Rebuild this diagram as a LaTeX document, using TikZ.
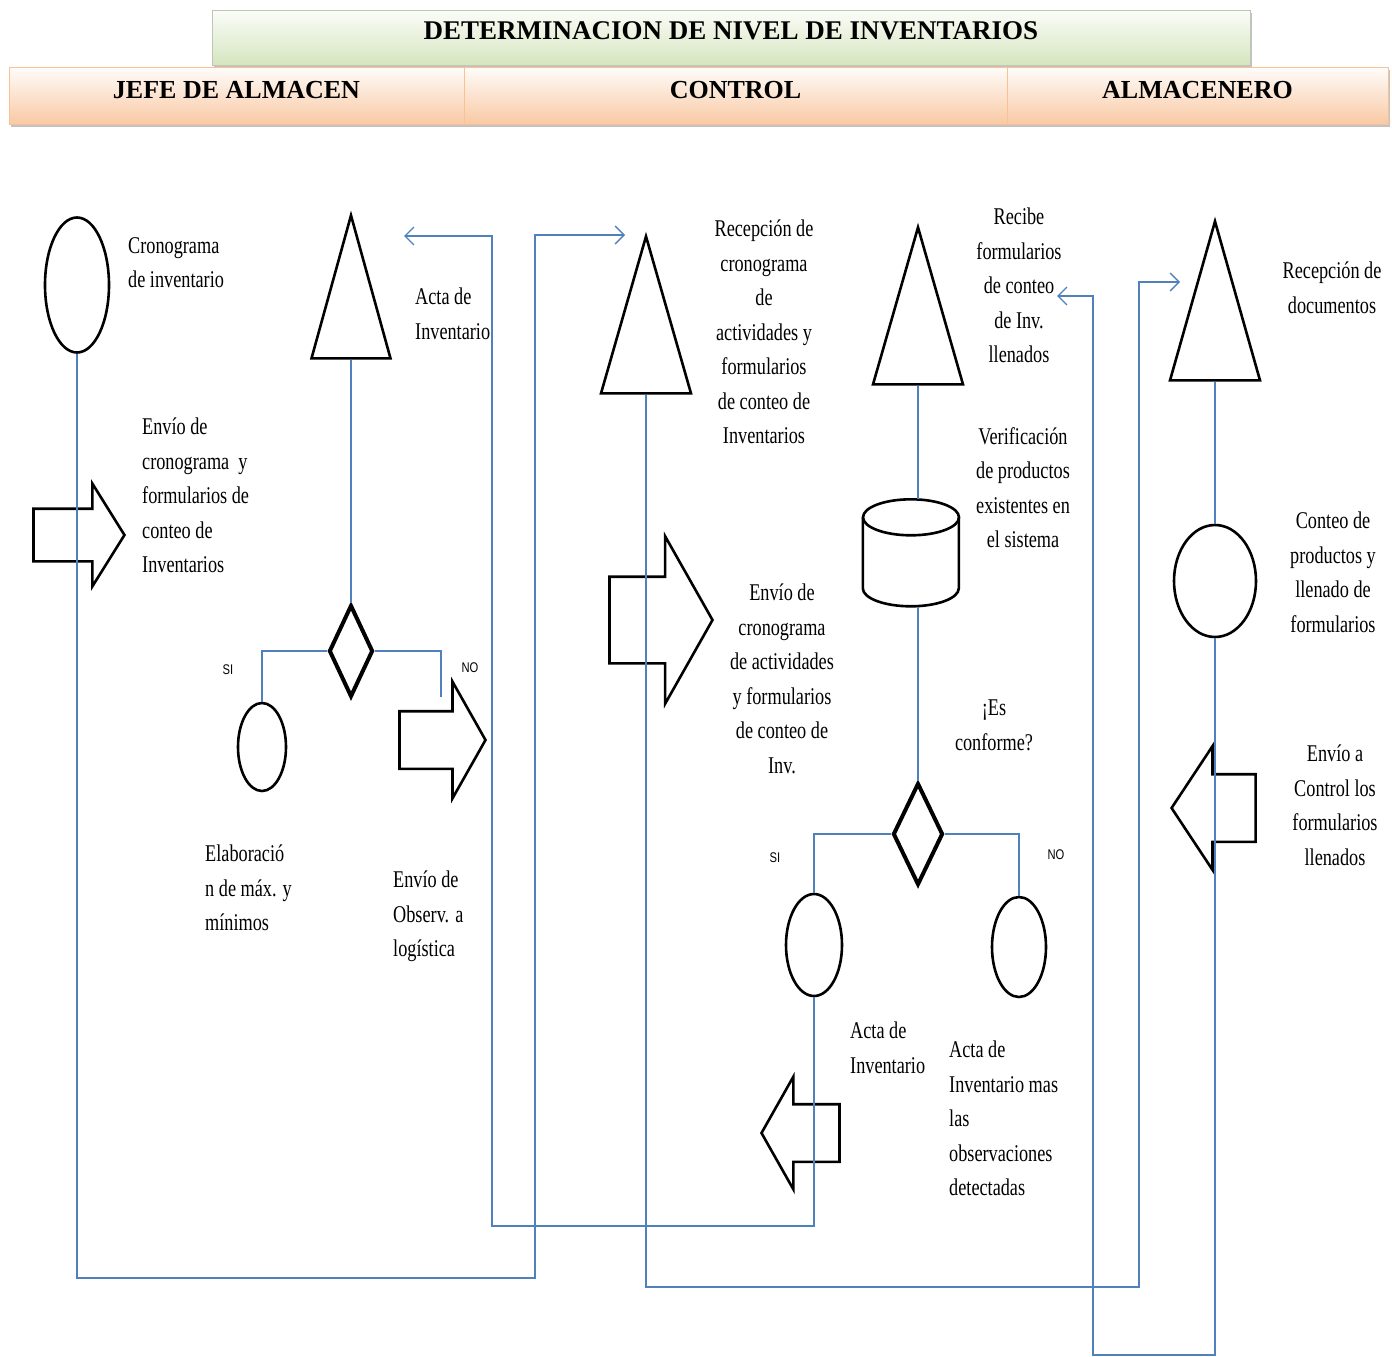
\documentclass[tikz,border=0pt]{standalone}
\usepackage{fontspec}
\setmainfont{Liberation Serif}
\newfontfamily\narrowserif[FakeStretch=0.76]{Liberation Serif}
\newfontfamily\narrowsans[FakeStretch=0.8]{Liberation Sans}
\usetikzlibrary{shapes.geometric, shapes.arrows, arrows.meta, shadows}
\definecolor{flowblue}{RGB}{79,129,189}
\definecolor{barorange}{RGB}{249,201,164}
\definecolor{bargreen}{RGB}{214,229,191}

\begin{document}
\begin{tikzpicture}[x=1pt, y=-1pt,
  flow/.style={flowblue, line width=1.3pt},
  openhead/.style={-{Straight Barb[length=9pt,width=18pt]}},
  shp/.style={draw, line width=2.6pt, inner sep=0pt},
  oval/.style={shp, ellipse},
  tri/.style={shp, isosceles triangle, isosceles triangle stretches, shape border rotate=90, anchor=apex},
  decide/.style={shp, diamond, line width=4pt},
  bigarrow/.style={shp, single arrow, single arrow head indent=0pt, inner xsep=0pt, anchor=tip},
  lbl/.style={font=\narrowserif\fontsize{24}{34.5}\selectfont, inner sep=0pt, align=left, anchor=north west},
  clbl/.style={lbl, align=center, anchor=north},
  yesno/.style={font=\narrowsans\fontsize{14}{16}\selectfont, inner sep=0pt},
  titlebar/.style={draw=bargreen!70!black!60, top color=white!90!bargreen, bottom color=bargreen, font=\bfseries\fontsize{27}{30}\selectfont, text depth=13pt, drop shadow={shadow xshift=2pt, shadow yshift=-3pt, fill=black!40, opacity=.6}},
  lanebar/.style={draw=barorange!90!orange, top color=white!95!barorange, bottom color=barorange, font=\bfseries\fontsize{26}{30}\selectfont, text depth=12pt, drop shadow={shadow xshift=2pt, shadow yshift=-3pt, fill=black!40, opacity=.6}}
]
\useasboundingbox (0,0) rectangle (1392,1357);

% cabecera
\node[titlebar, minimum width=1038pt, minimum height=55pt] (title) at (731,37.5) {DETERMINACION DE NIVEL DE INVENTARIOS};
\node[lanebar, minimum width=455pt, minimum height=57pt] (jefe) at (236.5,95.5) {JEFE DE ALMACEN};
\node[lanebar, minimum width=543pt, minimum height=57pt] (control) at (735.5,95.5) {CONTROL};
\node[lanebar, minimum width=381pt, minimum height=57pt] (alm) at (1197.5,95.5) {ALMACENERO};

% jefe de almacen
\node[oval, minimum width=64pt, minimum height=135pt] (cron) at (77,285) {};
\node[lbl] at (128,237) {Cronograma\\de inventario};
\node[bigarrow, minimum height=91pt, minimum width=100pt, inner ysep=25pt, single arrow head extend=25pt, single arrow tip angle=116] (envio1) at (126,535) {};
\node[lbl] at (142,418) {Envío de\\cronograma \ y\\formularios de\\conteo de\\Inventarios};
\node[tri, minimum width=79pt, minimum height=143pt] (acta) at (351,212) {};
\node[lbl] at (415,288) {Acta de\\Inventario};
\node[decide, minimum width=44pt, minimum height=92pt] (dec1) at (351,651) {};
\node[yesno] at (228,670) {SI};
\node[yesno] at (470,668) {NO};
\node[oval, minimum width=48pt, minimum height=88pt] (elab) at (262,747) {};
\node[lbl] at (205,845) {Elaboració\\n de máx. y\\mínimos};
\node[bigarrow, minimum height=86pt, minimum width=114pt, inner ysep=27.5pt, single arrow head extend=29.5pt, single arrow tip angle=121] (envio2) at (487,740) {};
\node[lbl] at (393,871) {Envío de\\Observ. a\\logística};
\coordinate (noend) at (441,697);

% control
\node[tri, minimum width=90pt, minimum height=157pt] (recep) at (646,233) {};
\node[clbl] at (764,220) {Recepción de\\cronograma\\de\\actividades y\\formularios\\de conteo de\\Inventarios};
\node[bigarrow, minimum height=103pt, minimum width=165pt, inner ysep=42pt, single arrow head extend=40.5pt, single arrow tip angle=121] (envio3) at (714,620) {};
\node[clbl] at (782,584) {Envío de\\cronograma\\de actividades\\y formularios\\de conteo de\\Inv.};
\node[tri, minimum width=90pt, minimum height=157pt] (recibe) at (918,224) {};
\node[clbl] at (1019,208) {Recibe\\formularios\\de conteo\\de Inv.\\llenados};
\node[minimum width=96pt, minimum height=107pt, inner sep=0pt] (verif) at (911,553) {};
\draw[shp] (verif.north) ++(0,18) ellipse [x radius=48, y radius=18];
\draw[shp] (verif.north west) ++(0,18) -- ++(0,71) arc [start angle=180, end angle=0, x radius=48, y radius=18] -- ++(0,-71);
\node[clbl] at (1023,427) {Verificación\\de productos\\existentes en\\el sistema};
\node[clbl] at (994,700) {¡Es\\conforme?};
\node[decide, minimum width=50pt, minimum height=102pt] (dec2) at (918,834) {};
\node[yesno] at (775,858) {SI};
\node[yesno] at (1056,855) {NO};
\node[oval, minimum width=56pt, minimum height=102pt] (actaok) at (814,945) {};
\node[oval, minimum width=54pt, minimum height=100pt] (actaobs) at (1019,947) {};
\node[lbl] at (850,1022) {Acta de\\Inventario};
\node[lbl] at (949,1041) {Acta de\\Inventario mas\\las\\observaciones\\detectadas};
\node[bigarrow, shape border rotate=180, minimum height=78pt, minimum width=110pt, inner ysep=27.5pt, single arrow head extend=27.5pt, single arrow tip angle=121] (envio4) at (760,1133) {};

% almacenero
\node[tri, minimum width=90pt, minimum height=159pt] (recdoc) at (1215,218) {};
\node[clbl] at (1332,262) {Recepción de\\documentos};
\node[oval, minimum width=82pt, minimum height=112pt] (conteo) at (1215,581) {};
\node[clbl] at (1333,512) {Conteo de\\productos y\\llenado de\\formularios};
\node[bigarrow, shape border rotate=180, minimum height=84pt, minimum width=121pt, inner ysep=32.5pt, single arrow head extend=28pt, single arrow tip angle=113] (envio5) at (1170,808) {};
\node[clbl] at (1335,745) {Envío a\\Control los\\formularios\\llenados};

% conexiones
\coordinate (turnA) at (535,1278);
\coordinate (endA) at (625,235);
\coordinate (turnE) at (492,1226);
\coordinate (endE) at (404,236);
\coordinate (turnF) at (1139,1287);
\coordinate (endF) at (1180,282);
\coordinate (turnI) at (1093,1355);
\coordinate (endI) at (1057,296);
\draw[flow, openhead] (cron.south) |- (turnA) |- (endA);
\draw[flow] (acta.lower side) -- (dec1.north);
\draw[flow] (dec1.west) -| (elab.north);
\draw[flow] (dec1.east) -| (noend);
\draw[flow, openhead] (actaok.south) |- (turnE) |- (endE);
\draw[flow, openhead] (recep.lower side) |- (turnF) |- (endF);
\draw[flow] (recibe.lower side) -- (recibe.lower side |- verif.north);
\draw[flow] (verif.south -| dec2.north) -- (dec2.north);
\draw[flow] (dec2.west) -| (actaok.north);
\draw[flow] (dec2.east) -| (actaobs.north);
\draw[flow] (recdoc.lower side) -- (conteo.north);
\draw[flow, openhead] (conteo.south) |- (turnI) |- (endI);
\end{tikzpicture}
\end{document}
